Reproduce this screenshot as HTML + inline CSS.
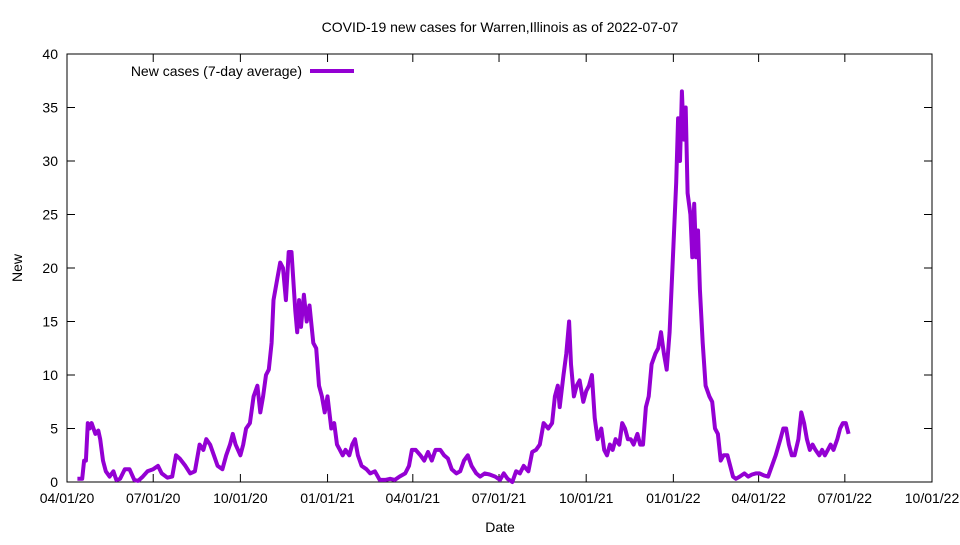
<!DOCTYPE html>
<html><head><meta charset="utf-8"><style>
body{margin:0;background:#fff;}
svg text{font-family:"Liberation Sans",sans-serif;font-size:14px;fill:#000;}
</style></head><body>
<svg id="chart" width="960" height="540" xmlns="http://www.w3.org/2000/svg">
<text x="500" y="32" text-anchor="middle">COVID-19 new cases for Warren,Illinois as of 2022-07-07</text>
<text transform="translate(22,268) rotate(-90)" text-anchor="middle">New</text>
<text x="500" y="532" text-anchor="middle">Date</text>
<g id="axes"></g>
<g id="series"></g>
<g>
<text x="302" y="76" text-anchor="end">New cases (7-day average)</text>
<line x1="310" y1="71" x2="354" y2="71" stroke="#9400d3" stroke-width="4"/>
</g>
</svg>
<script>
const days=[11,16,18,20,22,24,26,30,33,35,38,41,45,49,52,56,61,66,71,75,80,85,91,96,100,106,111,115,119,125,130,135,140,144,147,151,155,159,164,168,172,175,178,183,186,189,193,197,201,204,207,210,213,216,218,222,225,228,231,234,237,241,243,245,247,250,253,256,260,263,266,269,272,275,279,282,285,288,291,294,298,301,304,307,311,316,320,325,330,336,341,346,351,357,361,364,368,373,377,381,385,389,394,398,402,406,411,415,419,423,427,432,436,441,446,452,457,461,465,470,474,478,482,487,491,495,499,503,508,512,515,518,520,524,527,530,532,535,538,541,545,548,551,554,557,560,564,567,570,573,576,579,583,586,589,592,595,598,602,605,608,611,614,617,621,624,627,630,633,636,640,643,645,647,649,651,653,655,658,660,662,664,666,668,671,674,678,681,684,687,690,693,697,700,703,706,710,715,719,723,727,731,736,740,744,748,753,756,759,762,765,768,772,775,778,781,784,787,790,794,797,800,803,806,809,813,816,819,822,825];
const cases=[0.3,0.3,2,2,5.5,5,5.5,4.5,4.8,4,2,1,0.5,1,0.2,0.3,1.2,1.2,0.2,0.1,0.5,1,1.2,1.5,0.8,0.4,0.5,2.5,2.2,1.5,0.8,1,3.5,3,4,3.5,2.5,1.5,1.2,2.5,3.5,4.5,3.5,2.5,3.5,5,5.5,8,9,6.5,8,10,10.5,13,17,19,20.5,20,17,21.5,21.5,16,14,17,14.5,17.5,15,16.5,13,12.5,9,8,6.5,8,5,5.5,3.5,3,2.5,3,2.5,3.5,4,2.5,1.5,1.2,0.8,1,0.2,0.2,0.3,0.2,0.5,0.8,1.5,3,3,2.5,2,2.8,2,3,3,2.5,2.2,1.2,0.8,1,2,2.5,1.5,0.8,0.5,0.8,0.7,0.5,0.2,0.8,0.3,0,1,0.8,1.5,1,2.8,3,3.5,5.5,5,5.5,8,9,7,10,12,15,11,8,9,9.5,7.5,8.5,9,10,6,4,5,3,2.5,3.5,3,4,3.5,5.5,5,4,4,3.5,4.5,3.5,3.5,7,8,11,12,12.5,14,12,10.5,14,22,28,34,30,36.5,32,35,27,25,21,26,21,23.5,18,13,9,8,7.5,5,4.5,2,2.5,2.5,1.5,0.5,0.3,0.5,0.8,0.5,0.7,0.8,0.8,0.6,0.5,1.5,2.5,4,5,5,3.5,2.5,2.5,4,6.5,5.5,4,3,3.5,3,2.5,3,2.5,3,3.5,3,4,5,5.5,5.5,4.5];
const xTickDays=[0,91,183,275,365,456,548,640,730,821,913];
const xTickLabels=["04/01/20","07/01/20","10/01/20","01/01/21","04/01/21","07/01/21","10/01/21","01/01/22","04/01/22","07/01/22","10/01/22"];
const yTicks=[0,5,10,15,20,25,30,35,40];
const L=67,R=932,T=54,B=482,D0=0,D1=913,Y0=0,Y1=40;
const NS="http://www.w3.org/2000/svg";
function xs(d){return L+(d-D0)/(D1-D0)*(R-L);}
function ys(v){return B-(v-Y0)/(Y1-Y0)*(B-T);}
function mk(tag,attrs,parent){const e=document.createElementNS(NS,tag);for(const k in attrs)e.setAttribute(k,attrs[k]);parent.appendChild(e);return e;}
const ax=document.getElementById('axes');
const frame=mk('rect',{x:L,y:T,width:R-L,height:B-T,fill:'none',stroke:'#000','stroke-width':1},ax);


yTicks.forEach(v=>{
 const y=ys(v);
 const t1=mk('line',{x1:L,y1:y,x2:L+8,y2:y,stroke:'#000'},ax);
 
 
 const t2=mk('line',{x1:R,y1:y,x2:R-8,y2:y,stroke:'#000'},ax);
 
 
 const tx=mk('text',{x:L-9,y:y+5,'text-anchor':'end'},ax);tx.textContent=v;
 
 
});
xTickDays.forEach((d,i)=>{
 const x=xs(d);
 const t1=mk('line',{x1:x,y1:B,x2:x,y2:B-8,stroke:'#000'},ax);
 
 
 const t2=mk('line',{x1:x,y1:T,x2:x,y2:T+8,stroke:'#000'},ax);
 
 
 const tx=mk('text',{x:x,y:B+21,'text-anchor':'middle'},ax);tx.textContent=xTickLabels[i];
 
 
});
const pts=days.map((d,i)=>xs(d).toFixed(1)+','+ys(cases[i]).toFixed(1)).join(' ');
const pl=mk('polyline',{points:pts,fill:'none',stroke:'#9400d3','stroke-width':4,'stroke-linejoin':'round'},document.getElementById('series'));


</script>
</body></html>
